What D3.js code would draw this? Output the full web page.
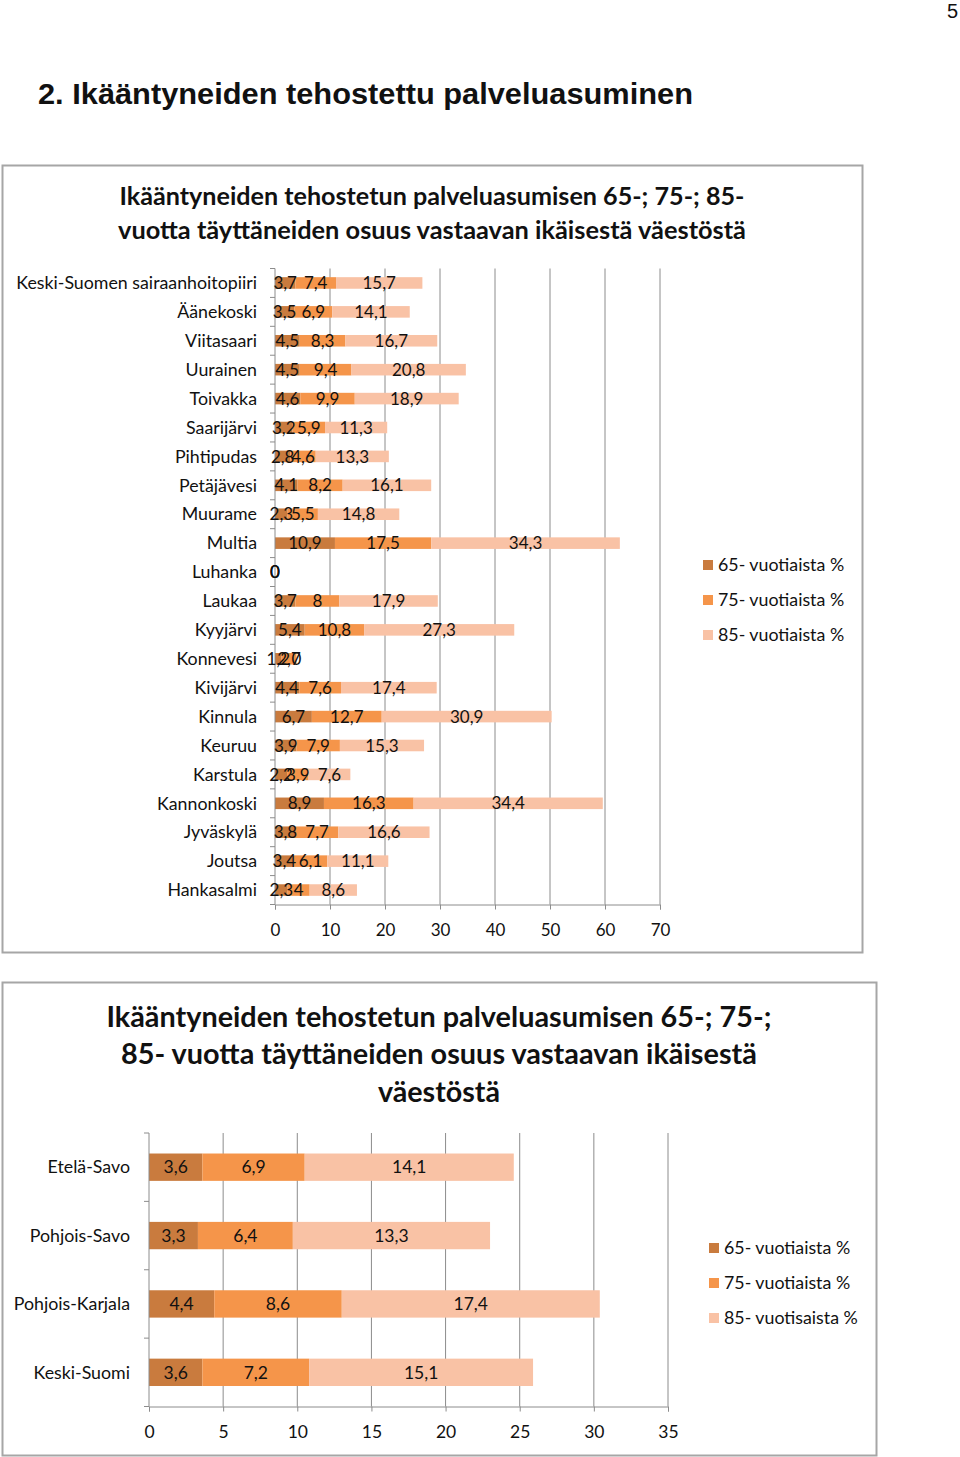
<!DOCTYPE html>
<html><head><meta charset="utf-8">
<script src="https://cdn.jsdelivr.net/npm/d3@7"></script>
<style>
body{margin:0;background:#fff;}
svg{display:block;}
text{font-family:Lato,"Open Sans",sans-serif;fill:#111;}
</style></head>
<body>
<svg id="c" width="960" height="1457"></svg>
<script>
// ---------- data: chart 1 ----------
const categories1 = ["Keski-Suomen sairaanhoitopiiri","Äänekoski","Viitasaari","Uurainen","Toivakka","Saarijärvi","Pihtipudas","Petäjävesi","Muurame","Multia","Luhanka","Laukaa","Kyyjärvi","Konnevesi","Kivijärvi","Kinnula","Keuruu","Karstula","Kannonkoski","Jyväskylä","Joutsa","Hankasalmi"];
const age65_1 = [3.7,3.5,4.5,4.5,4.6,3.2,2.8,4.1,2.3,10.9,0,3.7,5.4,1.2,4.4,6.7,3.9,2.2,8.9,3.8,3.4,2.3];
const age75_1 = [7.4,6.9,8.3,9.4,9.9,5.9,4.6,8.2,5.5,17.5,0,8,10.8,2.7,7.6,12.7,7.9,3.9,16.3,7.7,6.1,4];
const age85_1 = [15.7,14.1,16.7,20.8,18.9,11.3,13.3,16.1,14.8,34.3,0,17.9,27.3,0,17.4,30.9,15.3,7.6,34.4,16.6,11.1,8.6];
const ticks1 = [0,10,20,30,40,50,60,70];
const legend1 = ["65- vuotiaista %","75- vuotiaista %","85- vuotiaista %"];
const title1 = ["Ikääntyneiden tehostetun palveluasumisen 65-; 75-; 85-","vuotta täyttäneiden osuus vastaavan ikäisestä väestöstä"];

// ---------- data: chart 2 ----------
const categories2 = ["Etelä-Savo","Pohjois-Savo","Pohjois-Karjala","Keski-Suomi"];
const age65_2 = [3.6,3.3,4.4,3.6];
const age75_2 = [6.9,6.4,8.6,7.2];
const age85_2 = [14.1,13.3,17.4,15.1];
const ticks2 = [0,5,10,15,20,25,30,35];
const legend2 = ["65- vuotiaista %","75- vuotiaista %","85- vuotisaista %"];
const title2 = ["Ikääntyneiden tehostetun palveluasumisen 65-; 75-;","85- vuotta täyttäneiden osuus vastaavan ikäisestä","väestöstä"];

const colors = ["#C97B3E","#F5954A","#F9C2A5"];
const fmt = v => String(v).replace(".", ",");

const svg = d3.select("#c");

// page number & heading
svg.append("text").attr("x",958).attr("y",18).attr("text-anchor","end")
  .style("font-family","'Liberation Sans',Arial,sans-serif").style("font-size","20px").text("5");
svg.append("text").attr("x",38).attr("y",104)
  .style("font-family","'Liberation Sans',Arial,sans-serif").style("font-size","29px").style("font-weight","bold")
  .attr("textLength",655).attr("lengthAdjust","spacingAndGlyphs")
  .text("2. Ikääntyneiden tehostettu palveluasuminen");

function fitText(sel, w){
  sel.attr("textLength", w).attr("lengthAdjust","spacingAndGlyphs");
}

function drawChart(cfg){
  const g = svg.append("g");
  g.append("rect").attr("x",cfg.box[0]+0.5).attr("y",cfg.box[1]+0.5)
    .attr("width",cfg.box[2]).attr("height",cfg.box[3])
    .attr("fill","#fff").attr("stroke","#A6A6A6").attr("stroke-width",2);
  cfg.title.forEach((t,i)=>{
    const tx = g.append("text").attr("x",cfg.titleX).attr("y",cfg.titleY[i])
      .attr("text-anchor","middle").style("font-weight","bold").style("font-size",cfg.titleSize+"px")
      .text(t);
    fitText(tx, cfg.titleW[i]);
  });
  const x = d3.scaleLinear().domain([cfg.ticks[0], cfg.ticks[cfg.ticks.length-1]]).range([cfg.x0,cfg.x1]);
  const y = d3.scaleBand().domain(cfg.cats).range([cfg.y0,cfg.y1]).paddingInner(cfg.pad).paddingOuter(cfg.pad/2);
  g.append("g").selectAll("line").data(cfg.ticks.slice(1)).join("line")
    .attr("x1",d=>x(d)).attr("x2",d=>x(d)).attr("y1",cfg.y0).attr("y2",cfg.y1)
    .attr("stroke","#8C8C8C").attr("stroke-width",1);
  const rows = cfg.cats.map((c,i)=>({cat:c, a:cfg.s[0][i], b:cfg.s[1][i], c2:cfg.s[2][i]}));
  const stack = d3.stack().keys(["a","b","c2"])(rows);
  stack.forEach((layer,li)=>{
    g.append("g").selectAll("rect").data(layer).join("rect")
      .attr("x",d=>x(d[0])).attr("width",d=>x(d[1])-x(d[0]))
      .attr("y",d=>y(d.data.cat)).attr("height",y.bandwidth())
      .attr("fill",colors[li]);
  });
  g.append("line").attr("x1",cfg.x0).attr("x2",cfg.x0).attr("y1",cfg.y0).attr("y2",cfg.y1).attr("stroke","#8C8C8C");
  const step = y.step();
  g.append("g").selectAll("line").data(d3.range(cfg.cats.length+1)).join("line")
    .attr("x1",cfg.x0-5).attr("x2",cfg.x0).attr("y1",i=>cfg.y0+i*step).attr("y2",i=>cfg.y0+i*step)
    .attr("stroke","#8C8C8C");
  g.append("g").selectAll("text").data(cfg.cats).join("text")
    .attr("x",cfg.labelX).attr("y",d=>y(d)+y.bandwidth()/2).attr("dy","0.35em")
    .attr("text-anchor","end").style("font-size",cfg.catSize+"px").text(d=>d);
  const xa = g.append("g").attr("transform",`translate(0,${cfg.y1})`)
    .call(d3.axisBottom(x).tickValues(cfg.ticks).tickSize(5).tickPadding(cfg.tickPad).tickFormat(d=>d));
  xa.select(".domain").attr("stroke","#8C8C8C");
  xa.selectAll(".tick line").attr("stroke","#8C8C8C");
  xa.selectAll(".tick text").style("font-size",cfg.tickSize+"px").style("font-family","Lato,sans-serif").attr("fill","#111");
  stack.forEach((layer,li)=>{
    g.append("g").selectAll("text").data(layer).join("text")
      .attr("x",d=>(x(d[0])+x(d[1]))/2).attr("y",d=>y(d.data.cat)+y.bandwidth()/2).attr("dy","0.36em")
      .attr("text-anchor","middle").style("font-size",cfg.lblSize+"px")
      .text(d=>fmt(d[1]-d[0] === 0 ? 0 : +(d[1]-d[0]).toFixed(1)));
  });
  cfg.legend.forEach((t,i)=>{
    const ly = cfg.legY + i*35;
    g.append("rect").attr("x",cfg.legX).attr("y",ly-5).attr("width",10).attr("height",10).attr("fill",colors[i]);
    g.append("text").attr("x",cfg.legX+15).attr("y",ly).attr("dy","0.35em").style("font-size",cfg.legSize+"px").text(t);
  });
}

drawChart({
  box:[2,165,860,787],
  title:title1, titleX:432, titleY:[205,239], titleW:[625,628], titleSize:25,
  cats:categories1, s:[age65_1,age75_1,age85_1], ticks:ticks1,
  x0:275, x1:660, y0:268.5, y1:904.5, pad:0.6,
  labelX:257, catSize:17.8, lblSize:17, tickSize:17, tickPad:14,
  legend:legend1, legX:703, legY:565, legSize:17.8
});

drawChart({
  box:[2,982,874,473],
  title:title2, titleX:439, titleY:[1027,1064,1102], titleW:[665,636,122], titleSize:29,
  cats:categories2, s:[age65_2,age75_2,age85_2], ticks:ticks2,
  x0:149, x1:668, y0:1133, y1:1406.5, pad:0.6,
  labelX:130, catSize:17.8, lblSize:17.5, tickSize:17.5, tickPad:14,
  legend:legend2, legX:709, legY:1248, legSize:17.8
});
</script>
</body></html>
